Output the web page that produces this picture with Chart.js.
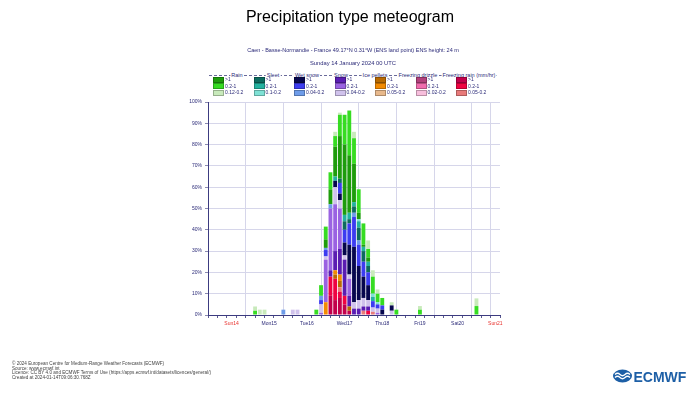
<!DOCTYPE html>
<html>
<head>
<meta charset="utf-8">
<script src="https://cdn.jsdelivr.net/npm/chart.js@4.4.1/dist/chart.umd.min.js"></script>
<style>
  body { margin: 0; background: #fff; font-family: "Liberation Sans", Arial, sans-serif; }
  #wrap { position: relative; width: 700px; height: 400px; overflow: hidden; }
  #c { position: absolute; left: 0; top: 0; }
  .t { position: absolute; white-space: nowrap; color: #2b2a78; }
  .ctr { transform: translateX(-50%); }
  .sw { position: absolute; width: 9px; height: 4px; border: 1px solid rgba(0,0,0,0.25); }
  .lab { position: absolute; font-size: 5px; color: #2b2a78; white-space: nowrap; line-height: 6px; }
  .hdr { position: absolute; font-size: 5.5px; color: #2b2a78; background: #fff; padding: 0 1px; transform: translateX(-50%); line-height: 6px; white-space: nowrap; }
  #dash { position: absolute; left: 209px; top: 75px; width: 288px; border-top: 1px dashed #6a6a9a; }
  #foot { position: absolute; left: 12px; top: 362px; font-size: 4.6px; line-height: 4.6px; color: #444; }
  #logo { position: absolute; left: 613px; top: 368px; }
</style>
</head>
<body>
<div id="wrap">
  <canvas id="c" width="700" height="400"></canvas>
  <div class="t ctr" style="left:350px;top:8px;font-size:16px;color:#000;">Precipitation type meteogram</div>
  <div class="t ctr" style="left:353px;top:47px;font-size:5.5px;">Caen - Basse-Normandie - France 49.17°N 0.31°W (ENS land point) ENS height: 24 m</div>
  <div class="t ctr" style="left:353px;top:60px;font-size:5.8px;">Sunday 14 January 2024 00 UTC</div>
  <div id="dash"></div>
  <div id="legend"></div>
  <div id="foot">© 2024 European Centre for Medium-Range Weather Forecasts (ECMWF)<br>Source: www.ecmwf.int<br>Licence: CC BY 4.0 and ECMWF Terms of Use (https://apps.ecmwf.int/datasets/licences/general/)<br>Created at 2024-01-14T09:06:30.768Z</div>
  <div id="logo">
    <svg width="76" height="16" viewBox="0 0 76 16">
      <ellipse cx="9.5" cy="8" rx="9.5" ry="6.5" fill="#1d5fa6"/>
      <path d="M2 6.5 q2.5 -2.5 5 0 t5 0 t5 0 M2 9.5 q2.5 -2.5 5 0 t5 0 t5 0" stroke="#fff" stroke-width="1.3" fill="none"/>
      <text x="20.5" y="13.5" font-family="Liberation Sans, Arial, sans-serif" font-weight="bold" font-size="14" fill="#1d5fa6">ECMWF</text>
    </svg>
  </div>
</div>
<script>
// forecast step (hours after Sun 14 Jan 00 UTC) of each bar
const hours = [27, 30, 33, 45, 51, 54, 66, 69, 72, 75, 78, 81, 84, 87, 90, 93, 96, 99, 102, 105, 108, 114, 117, 132, 168];

// probability (%) per precipitation type and intensity class
const rainHeavy  = [0, 0, 0, 0, 0, 0, 0, 0, 4, 7, 14, 20, 33, 27, 18, 3, 1, 2, 0, 0, 0, 0, 0, 0, 0];
const rainMod    = [2, 0, 0, 0, 0, 0, 2.5, 5, 6, 8, 5, 10, 14, 21, 12, 11, 10, 4, 8, 4, 3.5, 0, 2.5, 2.5, 4.2];
const rainLight  = [2, 2.5, 2.5, 0, 0, 0, 0, 0, 0, 0, 2, 1, 0, 0, 3, 0, 0, 4, 3, 2, 0, 1.5, 0, 1.7, 3.6];
const sleetHeavy = [0, 0, 0, 0, 0, 0, 0, 0, 0, 0, 0, 2, 4, 2, 3, 6, 5, 3, 0, 0, 0, 0, 0, 0, 0];
const sleetMod   = [0, 0, 0, 0, 0, 0, 0, 0, 0, 0, 2, 0, 3, 3, 2, 3, 2, 2, 2, 0, 0, 0, 0, 0, 0];
const sleetLight = [0, 0, 0, 0, 0, 0, 0, 0, 0, 0, 0, 0, 0, 0, 0, 1, 0, 0, 1.5, 1, 0, 0, 0, 0, 0];
const wetHeavy   = [0, 0, 0, 0, 0, 0, 0, 0, 0, 0, 3, 3, 6, 14, 26, 16, 10, 7, 0, 0, 2.5, 2.5, 0, 0, 0];
const wetMod     = [0, 0, 0, 0, 0, 0, 0, 2, 3, 0, 0, 5, 6, 10, 14, 10, 7, 6, 3, 2, 2, 0, 0, 0, 0];
const wetLight   = [0, 0, 0, 2.5, 0, 0, 0, 2, 1, 2, 0, 0, 0, 0, 2, 2, 0, 0, 0, 0, 0, 0, 0, 0, 0];
const snowHeavy  = [0, 0, 0, 0, 0, 0, 0, 0, 0, 3, 9, 12, 17, 5, 3, 3, 2, 2, 0, 0, 0, 0, 0, 0, 0];
const snowMod    = [0, 0, 0, 0, 0, 0, 0, 1, 20, 29, 22, 19, 0, 8, 0, 0, 0, 0, 0, 1, 0, 0, 0, 0, 0];
const snowLight  = [0, 0, 0, 0, 2.5, 2.5, 0, 4, 1.5, 0, 8, 4, 2, 2, 3, 4, 4, 3, 2, 2, 0, 2, 0, 0, 0];
const ipHeavy    = [0, 0, 0, 0, 0, 0, 0, 0, 0, 0, 2, 3, 0, 2, 0, 0, 0, 0, 0, 0, 0, 0, 0, 0, 0];
const ipMod      = [0, 0, 0, 0, 0, 0, 0, 0, 6, 0, 2, 3, 0, 0, 0, 0, 0, 0, 0, 0, 0, 0, 0, 0, 0];
const ipLight    = [0, 0, 0, 0, 0, 0, 0, 0, 0, 0, 0, 0, 0, 0, 0, 0, 0, 0, 0, 0, 0, 0, 0, 0, 0];
const fzdzHeavy  = [0, 0, 0, 0, 0, 0, 0, 0, 0, 0, 0, 0, 0, 0, 0, 0, 0, 0, 0, 0, 0, 0, 0, 0, 0];
const fzdzMod    = [0, 0, 0, 0, 0, 0, 0, 0, 0, 0, 0, 0, 0, 0, 0, 0, 0, 0, 0, 0, 0, 0, 0, 0, 0];
const fzdzLight  = [0, 0, 0, 0, 0, 0, 0, 0, 0, 0, 0, 0, 0, 0, 0, 0, 0, 0, 0, 0, 0, 0, 0, 0, 0];
const frHeavy    = [0, 0, 0, 0, 0, 0, 0, 0, 0, 9, 7, 8, 5, 2, 0, 0, 0, 0, 0, 0, 0, 0, 0, 0, 0];
const frMod      = [0, 0, 0, 0, 0, 0, 0, 0, 0, 9, 10, 3, 4, 0, 0, 0, 0, 2, 0, 0, 0, 0, 0, 0, 0];
const frLight    = [0, 0, 0, 0, 0, 0, 0, 0, 0, 0, 0, 2, 0, 0, 0, 0, 2, 0, 1.5, 0, 0, 0, 0, 0, 0];

// x axis labels, placed at 12 UTC of each day
const dayLabels = ["Sun14", "Mon15", "Tue16", "Wed17", "Thu18", "Fri19", "Sat20", "Sun21"];
const yTicks = [0, 10, 20, 30, 40, 50, 60, 70, 80, 90, 100];

// legend
const typeNames = ["Rain", "Sleet", "Wet snow", "Snow", "Ice pellets", "Freezing drizzle", "Freezing rain (mm/hr)"];
const classNames = [
  [">1", "0.2-1", "0.12-0.2"],
  [">1", "0.2-1", "0.1-0.2"],
  [">1", "0.2-1", "0.04-0.2"],
  [">1", "0.2-1", "0.04-0.2"],
  [">1", "0.2-1", "0.05-0.2"],
  [">1", "0.2-1", "0.02-0.2"],
  [">1", "0.2-1", "0.05-0.2"],
];
const typeColors = [
  ["#1e9c0c", "#36dc22", "#c8eabb"],
  ["#0d6b5f", "#23b29f", "#7fe1d5"],
  ["#07074e", "#3c3cf0", "#6e9ce9"],
  ["#5a1cb2", "#9a62e2", "#d0c2ec"],
  ["#b86a02", "#f28a02", "#e8b98c"],
  ["#b2417c", "#f06cae", "#f7bedc"],
  ["#c2004b", "#ef0342", "#e87a7a"],
];
const typeSeries = [
  [rainHeavy, rainMod, rainLight],
  [sleetHeavy, sleetMod, sleetLight],
  [wetHeavy, wetMod, wetLight],
  [snowHeavy, snowMod, snowLight],
  [ipHeavy, ipMod, ipLight],
  [fzdzHeavy, fzdzMod, fzdzLight],
  [frHeavy, frMod, frLight],
];

// legend drawn as html
const headerX = [237, 273, 307, 341, 375, 418, 469];
const leg = document.getElementById("legend");
typeNames.forEach((name, i) => {
  const h = document.createElement("div");
  h.className = "hdr";
  h.style.left = headerX[i] + "px";
  h.style.top = "72px";
  h.textContent = name;
  leg.appendChild(h);
  const x = 213 + i * 40.5;
  classNames[i].forEach((lbl, j) => {
    const y = 76.5 + j * 6.5;
    const s = document.createElement("div");
    s.className = "sw";
    s.style.left = x + "px";
    s.style.top = y + "px";
    s.style.background = typeColors[i][j];
    leg.appendChild(s);
    const l = document.createElement("div");
    l.className = "lab";
    l.style.left = (x + 12) + "px";
    l.style.top = (y - 0.5) + "px";
    l.textContent = lbl;
    leg.appendChild(l);
  });
});

// stack from bottom: freezing rain, freezing drizzle, ice pellets, snow, wet snow, sleet, rain
const datasets = [];
for (let i = typeNames.length - 1; i >= 0; i--) {
  for (let j = 0; j < 3; j++) {
    datasets.push({
      label: typeNames[i] + " " + classNames[i][j],
      data: hours.map((h, k) => ({ x: h, y: typeSeries[i][j][k] })),
      backgroundColor: typeColors[i][j],
      borderWidth: 0,
      barPercentage: 0.82,
      categoryPercentage: 1,
    });
  }
}

const navy = "#2b2a78";
const gridCol = "#d6d6ea";

new Chart(document.getElementById("c").getContext("2d"), {
  type: "bar",
  data: { datasets },
  options: {
    responsive: false,
    animation: false,
    layout: { padding: { left: 178, right: 200, top: 102, bottom: 70 } },
    plugins: { legend: { display: false }, tooltip: { enabled: false } },
    scales: {
      x: {
        type: "linear",
        stacked: true,
        min: 0,
        max: 180,
        afterBuildTicks: (scale) => {
          const t = [];
          for (let v = 0; v <= 180; v += 6) t.push({ value: v });
          scale.ticks = t;
        },
        afterFit: (scale) => { scale.height = 15; },
        ticks: {
          autoSkip: false,
          maxRotation: 0,
          padding: 3,
          font: { family: "Liberation Sans", size: 5 },
          color: (ctx) => (ctx.tick && ctx.tick.label && ctx.tick.label.startsWith("Sun") ? "#e8302c" : navy),
          callback: (v) => (v % 24 === 12 ? dayLabels[(v - 12) / 24] : ""),
        },
        grid: {
          color: (ctx) => (ctx.tick && (ctx.tick.value % 24 === 0 || ctx.tick.value === 180) ? gridCol : "rgba(0,0,0,0)"),
          tickColor: "#5a5a90",
          tickLength: 3,
        },
        border: { color: "#3c3b80", width: 1 },
      },
      y: {
        stacked: true,
        min: 0,
        max: 100,
        afterBuildTicks: (scale) => { scale.ticks = yTicks.map((v) => ({ value: v })); },
        afterFit: (scale) => { scale.width = 30; },
        ticks: {
          padding: 3,
          font: { family: "Liberation Sans", size: 5 },
          color: navy,
          callback: (v) => v + "%",
        },
        grid: { color: gridCol, tickColor: "#8a8ab0", tickLength: 3 },
        border: { color: "#3c3b80", width: 1 },
      },
    },
  },
});
</script>
</body>
</html>
